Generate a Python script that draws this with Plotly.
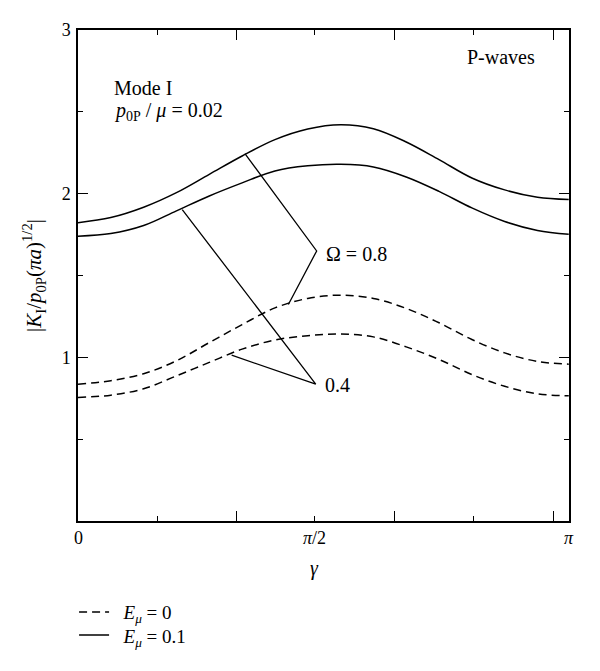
import plotly.graph_objects as go

# angle gamma (rad) and normalised SIF
gamma = [0, 0.21, 0.42, 0.63, 0.84, 1.05, 1.26, 1.47, 1.68, 1.89, 2.10, 2.31, 2.52, 2.73, 2.94, 3.14]
k_solid_08 = [1.823, 1.854, 1.917, 2.006, 2.118, 2.230, 2.330, 2.395, 2.421, 2.397, 2.316, 2.208, 2.096, 2.023, 1.978, 1.964]
k_solid_04 = [1.740, 1.756, 1.805, 1.895, 1.986, 2.066, 2.139, 2.170, 2.179, 2.163, 2.102, 2.014, 1.913, 1.830, 1.775, 1.752]
k_dash_08 = [0.836, 0.857, 0.900, 0.979, 1.090, 1.200, 1.302, 1.360, 1.380, 1.360, 1.299, 1.211, 1.109, 1.027, 0.975, 0.958]
k_dash_04 = [0.755, 0.769, 0.808, 0.887, 0.969, 1.050, 1.106, 1.132, 1.142, 1.125, 1.064, 0.987, 0.895, 0.823, 0.777, 0.765]

# leader lines from the curves to the Omega labels
lead_08_x = [1.068, 1.527, 1.346]
lead_08_y = [2.245, 1.650, 1.323]
lead_04_x = [0.667, 1.521, 0.983]
lead_04_y = [1.903, 0.836, 1.013]

FONT = "Liberation Serif"
DASH = "8px,5px"

fig = go.Figure()

# dashed curves (E_mu = 0)
fig.add_trace(go.Scatter(x=gamma, y=k_dash_08, mode="lines", line=dict(color="black", width=1.5, dash=DASH, shape="spline"),
                         name="&nbsp;&nbsp;<i>E</i><sub><i>μ</i></sub> = 0", legend="legend"))
fig.add_trace(go.Scatter(x=gamma, y=k_dash_04, mode="lines", line=dict(color="black", width=1.5, dash=DASH, shape="spline"),
                         showlegend=False))
# solid curves (E_mu = 0.1)
fig.add_trace(go.Scatter(x=gamma, y=k_solid_08, mode="lines", line=dict(color="black", width=1.5, shape="spline"),
                         name="&nbsp;&nbsp;<i>E</i><sub><i>μ</i></sub> = 0.1", legend="legend2"))
fig.add_trace(go.Scatter(x=gamma, y=k_solid_04, mode="lines", line=dict(color="black", width=1.5, shape="spline"),
                         showlegend=False))
# leaders
for lx, ly in [(lead_08_x, lead_08_y), (lead_04_x, lead_04_y)]:
    fig.add_trace(go.Scatter(x=lx, y=ly, mode="lines", line=dict(color="black", width=1.3),
                             showlegend=False, hoverinfo="skip"))

axis_common = dict(showline=True, linecolor="black", linewidth=1.5, mirror="ticks",
                   ticks="inside", ticklen=10, tickwidth=1.3, tickcolor="black",
                   showgrid=False, zeroline=False)

fig.update_xaxes(range=[0, 3.14159], tickvals=[0, 1.013, 2.024, 3.04], showticklabels=False,
                 minor=dict(tickvals=[0.509, 1.516, 2.531], ticks="inside", ticklen=5, tickwidth=1.3,
                            tickcolor="black", showgrid=False),
                 **axis_common)
fig.update_yaxes(range=[0, 3], tickvals=[1, 2, 3], ticktext=["1", "2", "3"],
                 tickfont=dict(family=FONT, size=18, color="black"), ticklabelstandoff=2,
                 minor=dict(tickvals=[0.5, 1.5, 2.5], ticks="inside", ticklen=5, tickwidth=1.3,
                            tickcolor="black", showgrid=False),
                 title=dict(text="|<i>K</i><sub>I</sub>/<i>p</i><sub>0P</sub>(<i>πa</i>)<sup>1/2</sup>|",
                            font=dict(family=FONT, size=21, color="black"), standoff=14),
                 **axis_common)

tick_font = dict(family=FONT, size=18, color="black")
ann_font = dict(family=FONT, size=20, color="black")
annotations = [
    dict(x=0, y=-0.035, xref="x", yref="paper", text="0", showarrow=False, xanchor="center", yanchor="middle",
         font=tick_font),
    dict(x=1.516, y=-0.035, xref="x", yref="paper", text="<i>π</i>/2", showarrow=False, xanchor="center", yanchor="middle",
         font=tick_font),
    dict(x=3.14159, y=-0.035, xref="x", yref="paper", text="<i>π</i>", showarrow=False, xanchor="center", yanchor="middle",
         font=tick_font),
    dict(x=1.516, y=-0.097, xref="x", yref="paper", text="<i>γ</i>", showarrow=False, xanchor="center", yanchor="middle",
         font=dict(family=FONT, size=20, color="black")),
    dict(x=0.07, y=0.882, xref="paper", yref="paper", text="Mode I", showarrow=False, xanchor="left", yanchor="middle",
         font=ann_font),
    dict(x=0.07, y=0.833, xref="paper", yref="paper", text="<i>p</i><sub>0P</sub> / <i>μ</i> = 0.02", showarrow=False,
         xanchor="left", yanchor="middle", font=ann_font),
    dict(x=0.788, y=0.946, xref="paper", yref="paper", text="P-waves", showarrow=False, xanchor="left", yanchor="middle",
         font=ann_font),
    dict(x=1.575, y=1.630, xref="x", yref="y", text="Ω = 0.8", showarrow=False, xanchor="left", yanchor="middle",
         font=ann_font),
    dict(x=1.565, y=0.830, xref="x", yref="y", text="0.4", showarrow=False, xanchor="left", yanchor="middle",
         font=ann_font),
]

leg = dict(x=-0.008, xanchor="left", yanchor="top", bgcolor="rgba(0,0,0,0)",
           font=dict(family=FONT, size=19, color="black"), itemwidth=30)

# page body adds an 8px offset, so the figure is 8px smaller and margins shifted
fig.update_layout(
    width=592, height=663,
    margin=dict(l=70, r=31, t=22, b=150),
    paper_bgcolor="white", plot_bgcolor="white",
    font=dict(family=FONT, size=18, color="black"),
    annotations=annotations,
    showlegend=True,
    legend=dict(y=-0.147, **leg),
    legend2=dict(y=-0.194, **leg),
)

fig.write_html("out.html")
